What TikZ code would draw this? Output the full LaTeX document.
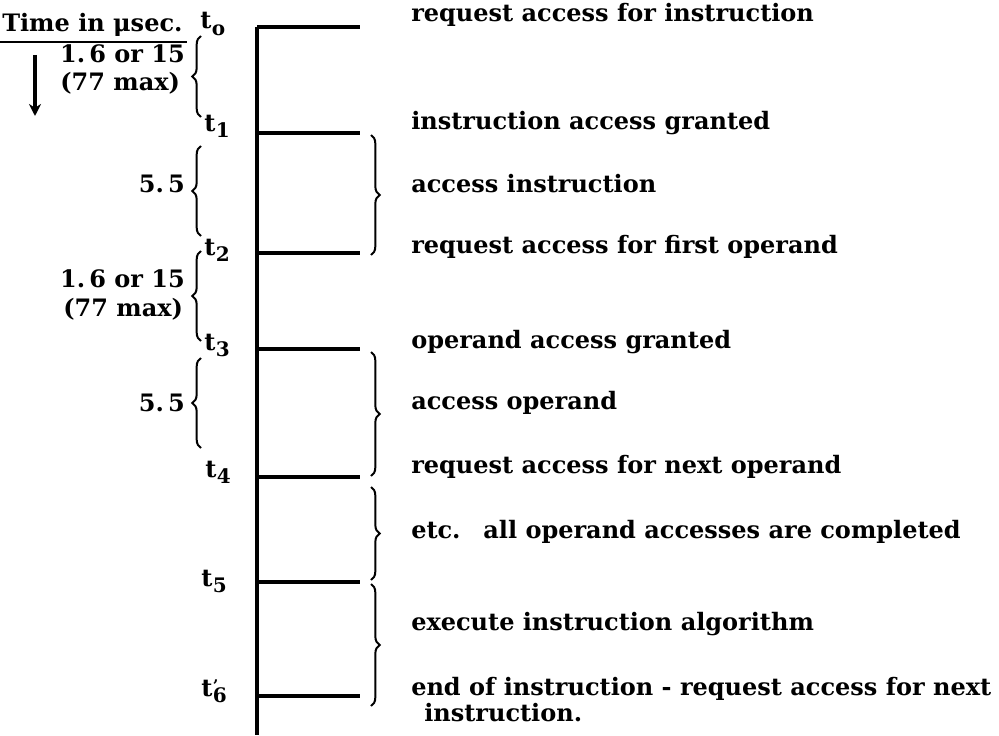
\documentclass[tikz,border=0pt]{standalone}
\usepackage{fontspec}
\setmainfont{DejaVu Serif}
\usetikzlibrary{decorations.pathreplacing,arrows.meta}
\newcommand{\tsub}[1]{t\kern0.3pt\raisebox{-0.5ex}{\fontsize{15}{15}\selectfont #1}}
\newcommand{\tprime}[1]{t\kern0.3pt\raisebox{-0.5ex}{\fontsize{15}{15}\selectfont\makebox[0pt][l]{\raisebox{1.05ex}{\fontsize{12}{12}\selectfont\textquoteright}}#1}}
\begin{document}
\begin{tikzpicture}[x=0.75pt,y=-0.75pt,
  axisline/.style={line width=2.4pt},
  tickline/.style={line width=2.4pt},
  rbrace/.style={decorate,decoration={brace,amplitude=6.5pt,aspect=0.5},line width=1.5pt},
  lbl/.style={anchor=base west,inner sep=0pt,font=\fontsize{18}{21}\selectfont\bfseries},
  tlbl/.style={anchor=base west,inner sep=0pt,font=\fontsize{18}{21}\selectfont\bfseries},
  dur/.style={anchor=base east,inner sep=0pt,font=\fontsize{18}{21}\selectfont\bfseries}]
\useasboundingbox (0,0) rectangle (999,735);

% time axis
\coordinate (axtop) at (257,27);
\coordinate (axbot) at (257,735);
\draw[axisline] (axtop) -- (axbot);

% event ticks
\foreach \n/\y in {0/27,1/133,2/253,3/349,4/477,5/582,6/696}{
  \coordinate (k\n) at (257,\y);
  \coordinate (e\n) at (360,\y);
  \draw[tickline] (k\n) -- (e\n);
}

% right-hand braces grouping the events
\coordinate (rb1a) at (371,135); \coordinate (rb1b) at (371,255);
\coordinate (rb2a) at (371,352); \coordinate (rb2b) at (371,476);
\coordinate (rb3a) at (371,487); \coordinate (rb3b) at (371,580);
\coordinate (rb4a) at (371,584); \coordinate (rb4b) at (371,706);
\draw[rbrace] (rb1a) -- (rb1b);
\draw[rbrace] (rb2a) -- (rb2b);
\draw[rbrace] (rb3a) -- (rb3b);
\draw[rbrace] (rb4a) -- (rb4b);

% event descriptions
\node[lbl] (d1) at (411,22) {request access for instruction};
\node[lbl] (d2) at (411,129) {instruction access granted};
\node[lbl] (d3) at (411,192) {access instruction};
\node[lbl] (d4) at (411,253) {request access for first operand};
\node[lbl] (d5) at (411,348) {operand access granted};
\node[lbl] (d6) at (411,409) {access operand};
\node[lbl] (d7) at (411,473) {request access for next operand};
\node[lbl] (d8) at (411,538) {etc.\hspace{0.95em}all operand accesses are completed};
\node[lbl] (d9) at (411,630) {execute instruction algorithm};
\node[lbl] (d10) at (411,695) {end of instruction - request access for next};
\node[lbl] (d11) at (424,721) {instruction.};

% time stamps
\node[tlbl] (t0) at (200,29) {\tsub{o}};
\node[tlbl] (t1) at (204,131) {\tsub{1}};
\node[tlbl] (t2) at (204,255) {\tsub{2}};
\node[tlbl] (t3) at (204,350) {\tsub{3}};
\node[tlbl] (t4) at (205,477) {\tsub{4}};
\node[tlbl] (t5) at (201,586) {\tsub{5}};
\node[tlbl] (t6) at (201,696) {\tprime{6}};

% header and direction of time
\node[anchor=base west,inner sep=0pt,font=\fontsize{18}{21}\selectfont\bfseries] (hdr) at (2,32) {Time in μsec.};
\coordinate (ul1) at (0,42); \coordinate (ul2) at (187,42);
\draw[line width=1.2pt] (ul1) -- (ul2);
\coordinate (ar1) at (35,55); \coordinate (ar2) at (35,116);
\draw[line width=2.4pt,-{Stealth[length=9pt,width=9pt]}] (ar1) -- (ar2);

% left-hand braces with durations
\coordinate (lb1a) at (201,117); \coordinate (lb1b) at (201,36);
\coordinate (lb2a) at (201,236); \coordinate (lb2b) at (201,146);
\coordinate (lb3a) at (201,341); \coordinate (lb3b) at (201,251);
\coordinate (lb4a) at (201,448); \coordinate (lb4b) at (201,358);
\draw[rbrace] (lb1a) -- (lb1b);
\draw[rbrace] (lb2a) -- (lb2b);
\draw[rbrace] (lb3a) -- (lb3b);
\draw[rbrace] (lb4a) -- (lb4b);

\node[dur] (w1a) at (185,63) {1.\,6 or 15};
\node[dur,anchor=base west] (w1b) at (60,90) {(77 max)};
\node[dur] (w2) at (185,192) {5.\,5};
\node[dur] (w3a) at (185,287) {1.\,6 or 15};
\node[dur,anchor=base west] (w3b) at (63,316) {(77 max)};
\node[dur] (w4) at (185,411) {5.\,5};
\end{tikzpicture}
\end{document}
